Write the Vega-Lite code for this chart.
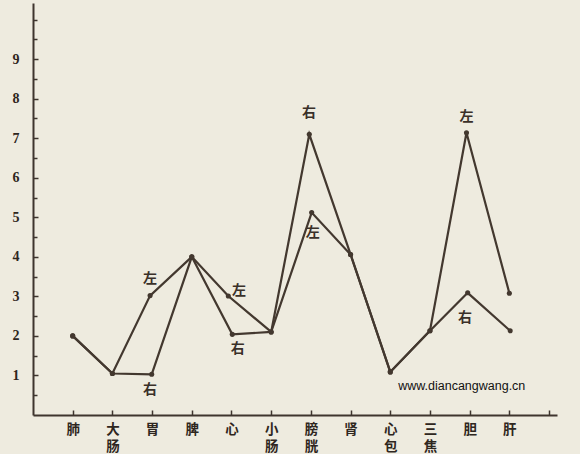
{
  "$schema": "https://vega.github.io/schema/vega-lite/v6.json",
  "width": 524,
  "height": 412,
  "autosize": {"type": "none"},
  "padding": {"left": 33, "top": 3, "right": 23, "bottom": 39},
  "background": "#eeebdf",
  "config": {
    "view": {"stroke": null},
    "axis": {"domainColor": "#3e352e", "tickColor": "#3e352e", "labelColor": "#2e2620", "domainWidth": 2, "tickWidth": 1.5, "grid": false, "title": null}
  },
  "resolve": {"axis": {"y": "independent"}},
  "datasets": {
    "lines": [
      {"organ": "肺", "x": 1, "series": "左", "value": 2.0},
      {"organ": "大肠", "x": 2, "series": "左", "value": 1.05},
      {"organ": "胃", "x": 2.95, "series": "左", "value": 3.02},
      {"organ": "脾", "x": 4, "series": "左", "value": 4.0},
      {"organ": "心", "x": 4.92, "series": "左", "value": 3.01},
      {"organ": "小肠", "x": 6, "series": "左", "value": 2.1},
      {"organ": "膀胱", "x": 7.02, "series": "左", "value": 5.12},
      {"organ": "肾", "x": 8, "series": "左", "value": 4.06},
      {"organ": "心包", "x": 9, "series": "左", "value": 1.09},
      {"organ": "三焦", "x": 10, "series": "左", "value": 2.13},
      {"organ": "胆", "x": 10.92, "series": "左", "value": 7.14},
      {"organ": "肝", "x": 12, "series": "左", "value": 3.08},
      {"organ": "肺", "x": 1, "series": "右", "value": 2.0},
      {"organ": "大肠", "x": 2, "series": "右", "value": 1.05},
      {"organ": "胃", "x": 2.99, "series": "右", "value": 1.03},
      {"organ": "脾", "x": 4, "series": "右", "value": 4.0},
      {"organ": "心", "x": 5.02, "series": "右", "value": 2.04},
      {"organ": "小肠", "x": 6, "series": "右", "value": 2.1},
      {"organ": "膀胱", "x": 6.96, "series": "右", "value": 7.1},
      {"organ": "肾", "x": 8, "series": "右", "value": 4.06},
      {"organ": "心包", "x": 9, "series": "右", "value": 1.09},
      {"organ": "三焦", "x": 10, "series": "右", "value": 2.13},
      {"organ": "胆", "x": 10.95, "series": "右", "value": 3.09},
      {"organ": "肝", "x": 12.02, "series": "右", "value": 2.13}
    ],
    "notes": [
      {"x": 2.95, "value": 3.44, "label": "左"},
      {"x": 2.95, "value": 0.63, "label": "右"},
      {"x": 5.19, "value": 3.14, "label": "左"},
      {"x": 5.16, "value": 1.67, "label": "右"},
      {"x": 6.95, "value": 7.63, "label": "右"},
      {"x": 7.05, "value": 4.6, "label": "左"},
      {"x": 10.92, "value": 7.53, "label": "左"},
      {"x": 10.88, "value": 2.45, "label": "右"}
    ],
    "watermark": [
      {"x": 10.8, "value": 0.73, "label": "www.diancangwang.cn"}
    ]
  },
  "layer": [
    {
      "data": {"name": "lines"},
      "mark": {"type": "line", "color": "#43382f", "strokeWidth": 2.2},
      "encoding": {
        "x": {
          "field": "x", "type": "quantitative",
          "scale": {"domain": [0, 13.2], "nice": false, "zero": false},
          "axis": {
            "values": [1, 2, 3, 4, 5, 6, 7, 8, 9, 10, 11, 12, 13],
            "tickSize": -5,
            "labelExpr": "split(['', '肺', '大|肠', '胃', '脾', '心', '小|肠', '膀|胱', '肾', '心|包', '三|焦', '胆', '肝', ''][datum.value], '|')",
            "labelFont": "Noto Sans CJK SC",
            "labelFontWeight": "bold",
            "labelFontSize": 13.5,
            "labelLineHeight": 17,
            "labelBaseline": "top",
            "labelPadding": 12,
            "labelFlush": false,
            "labelOverlap": false,
            "labelBound": false
          }
        },
        "y": {
          "field": "value", "type": "quantitative",
          "scale": {"domain": [0, 10.42], "nice": false, "zero": false},
          "axis": {
            "orient": "left",
            "values": [1, 2, 3, 4, 5, 6, 7, 8, 9],
            "tickSize": -5,
            "labelFont": "Liberation Serif",
            "labelFontWeight": "bold",
            "labelFontSize": 14,
            "labelPadding": 19,
            "labelFlush": false,
            "labelOverlap": false
          }
        },
        "detail": {"field": "series"}
      }
    },
    {
      "data": {"name": "lines"},
      "mark": {"type": "point", "filled": true, "color": "#43382f", "size": 26, "opacity": 1},
      "encoding": {
        "x": {"field": "x", "type": "quantitative"},
        "y": {
          "field": "value", "type": "quantitative",
          "axis": {
            "orient": "left",
            "values": [0.5, 1.5, 2.5, 3.5, 4.5, 5.5, 6.5, 7.5, 8.5, 9.5, 10],
            "tickSize": -4,
            "labels": false,
            "domain": false
          }
        }
      }
    },
    {
      "data": {"name": "notes"},
      "mark": {"type": "text", "font": "Noto Sans CJK SC", "fontWeight": "bold", "fontSize": 14, "color": "#3a3029"},
      "encoding": {
        "x": {"field": "x", "type": "quantitative"},
        "y": {"field": "value", "type": "quantitative", "axis": null},
        "text": {"field": "label"}
      }
    },
    {
      "data": {"name": "watermark"},
      "mark": {"type": "text", "font": "Liberation Sans", "fontSize": 12.5, "color": "#111111"},
      "encoding": {
        "x": {"field": "x", "type": "quantitative"},
        "y": {"field": "value", "type": "quantitative", "axis": null},
        "text": {"field": "label"}
      }
    }
  ]
}
